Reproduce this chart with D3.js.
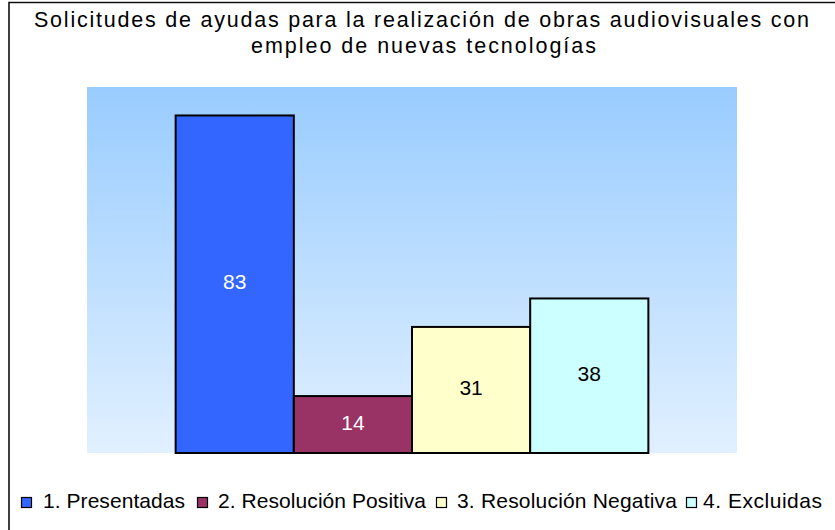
<!DOCTYPE html>
<html><head><meta charset="utf-8">
<script src="https://cdn.jsdelivr.net/npm/d3@7"></script>
<style>body{margin:0;background:#fff}svg{display:block;font-family:"Liberation Sans",Arial,sans-serif}</style>
</head><body><svg id="c" width="835" height="530"></svg>
<script>
const categories = ["1. Presentadas","2. Resolución Positiva","3. Resolución Negativa","4. Excluidas"];
const values = [83,14,31,38];
const colors = ["#3366FF","#993366","#FFFFCC","#CCFFFF"];
const labelColors = ["#ffffff","#ffffff","#000000","#000000"];
const titleLines = ["Solicitudes de ayudas para la realización de obras audiovisuales con","empleo de nuevas tecnologías"];

const svg = d3.select("#c");
const W=835,H=530;
svg.append("rect").attr("width",W).attr("height",H).attr("fill","#fff");
svg.append("path").attr("d","M9,"+H+"V2.5H"+W).attr("fill","none").attr("stroke","#111").attr("stroke-width",1.6);

const plot={x0:87,x1:737,y0:87,y1:453};
const defs=svg.append("defs");
const g=defs.append("linearGradient").attr("id","bg").attr("x1",0).attr("y1",0).attr("x2",0).attr("y2",1);
g.append("stop").attr("offset","0%").attr("stop-color","#99CCFF");
g.append("stop").attr("offset","100%").attr("stop-color","#E1F0FF");
svg.append("rect").attr("x",plot.x0).attr("y",plot.y0).attr("width",plot.x1-plot.x0).attr("height",plot.y1-plot.y0).attr("fill","url(#bg)");

const x=d3.scaleBand().domain(categories).range([plot.x0,plot.x1]).paddingInner(0).paddingOuter(0.75);
const y=d3.scaleLinear().domain([0,90]).range([plot.y1,plot.y0]);

svg.selectAll("rect.bar").data(values).join("rect").attr("class","bar")
 .attr("x",(d,i)=>x(categories[i])).attr("y",d=>y(d))
 .attr("width",x.bandwidth()).attr("height",d=>y(0)-y(d))
 .attr("fill",(d,i)=>colors[i]).attr("stroke","#000").attr("stroke-width",2);

svg.selectAll("text.lbl").data(values).join("text").attr("class","lbl")
 .attr("x",(d,i)=>x(categories[i])+x.bandwidth()/2).attr("y",d=>(y(d)+y(0))/2)
 .attr("dy","0.25em").attr("text-anchor","middle").attr("font-size",21)
 .attr("fill",(d,i)=>labelColors[i]).text(d=>d);

function fitText(sel,s,x0,x1){
  const nat=sel.node().getComputedTextLength();
  sel.attr("letter-spacing",(x1-x0-nat)/(s.length-1));
}
// title
const titleSpans=[[34,809],[251,596]];
const titleBase=[27,53];
titleLines.forEach((s,i)=>{
  const t=svg.append("text").attr("x",titleSpans[i][0]).attr("y",titleBase[i])
    .attr("font-size",21.5).attr("fill","#000").text(s);
  fitText(t,s,titleSpans[i][0],titleSpans[i][1]);
});

// legend
const leg=svg.append("g");
const sqX=[21,197,436,686];
const txX=[[43,185],[218,426],[457,677],[703,822]];
const ly=508;
categories.forEach((c,i)=>{
  leg.append("rect").attr("x",sqX[i]+0.5).attr("y",ly-10.5).attr("width",10).attr("height",10).attr("fill",colors[i]).attr("stroke","#000").attr("stroke-width",1.2);
  const t=leg.append("text").attr("x",txX[i][0]).attr("y",ly).attr("font-size",21).attr("fill","#000").text(c);
  fitText(t,c,txX[i][0],txX[i][1]);
});
</script></body></html>
